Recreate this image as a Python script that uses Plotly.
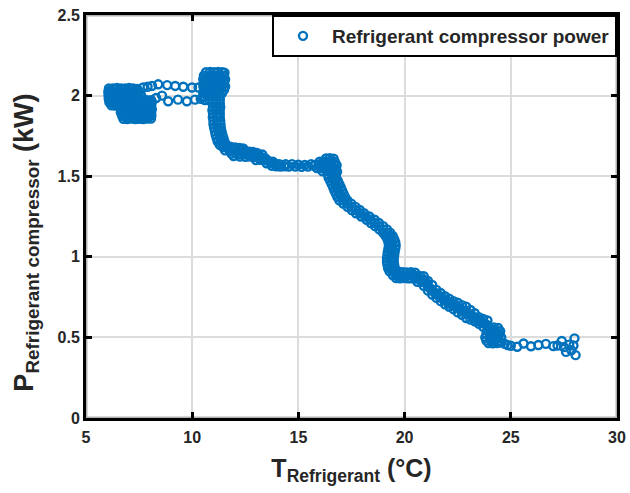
import plotly.graph_objects as go

# ---- data: (T_refrigerant [°C], P_compressor [kW]) ----
seg_cold_block = [
    (6.08, 2.045), (6.27, 2.045), (6.46, 2.048), (6.65, 2.045), (6.84, 2.045), (7.03, 2.048), (7.22, 2.045), (7.41, 2.042),
    (6.05, 2.024), (6.17, 2.024), (6.36, 2.024), (6.55, 2.026), (6.74, 2.024), (6.93, 2.024), (7.12, 2.026), (7.31, 2.024), (7.50, 2.022),
    (6.06, 2.002), (6.27, 2.002), (6.46, 2.004), (6.65, 2.002), (6.84, 2.002), (7.03, 2.004), (7.22, 2.002), (7.41, 2.002), (7.60, 2.0),
    (6.07, 1.981), (6.17, 1.981), (6.36, 1.983), (6.55, 1.981), (6.74, 1.981), (6.93, 1.983), (7.12, 1.981), (7.31, 1.981),
    (7.50, 1.978), (7.69, 1.975), (7.88, 1.972), (8.07, 1.972),
    (6.10, 1.959), (6.27, 1.959), (6.46, 1.961), (6.65, 1.959), (6.84, 1.959), (7.03, 1.961), (7.22, 1.959), (7.41, 1.959),
    (7.60, 1.957), (7.79, 1.959), (7.98, 1.957), (8.10, 1.959),
    (6.20, 1.940), (6.36, 1.938), (6.55, 1.940), (6.74, 1.938), (6.93, 1.938), (7.12, 1.940), (7.31, 1.938), (7.50, 1.938),
    (7.69, 1.940), (7.88, 1.938), (8.07, 1.938),
    (6.65, 1.916), (6.84, 1.916), (7.03, 1.918), (7.22, 1.916), (7.41, 1.916), (7.60, 1.918), (7.79, 1.916), (7.98, 1.916), (8.10, 1.916),
    (6.64, 1.895), (6.74, 1.895), (6.93, 1.897), (7.12, 1.895), (7.31, 1.895), (7.50, 1.897), (7.69, 1.895), (7.88, 1.895), (8.07, 1.895),
    (6.70, 1.875), (6.84, 1.873), (7.03, 1.875), (7.22, 1.873), (7.41, 1.873), (7.60, 1.875), (7.79, 1.873), (7.98, 1.873), (8.08, 1.876),
    (6.76, 1.856), (6.94, 1.855), (7.13, 1.857), (7.32, 1.855), (7.51, 1.856), (7.70, 1.855), (7.89, 1.857), (8.06, 1.858),
    (6.15, 2.035), (6.55, 2.035), (6.95, 2.035), (7.35, 2.032), (6.40, 1.95), (6.12, 1.97), (7.75, 1.93), (7.95, 1.905),
]
seg_transition_upper = [
    (7.69, 2.05), (7.90, 2.055), (8.11, 2.06), (8.40, 2.07), (8.82, 2.065),
    (9.20, 2.06), (9.58, 2.055), (9.99, 2.05), (10.30, 2.05),
]
seg_transition_lower = [
    (8.30, 1.985), (8.58, 2.0), (8.87, 1.965), (9.33, 1.975), (9.75, 1.965), (10.13, 1.975), (10.40, 1.98),
]
seg_warm_block = [
    (10.65, 2.145), (10.84, 2.147), (11.03, 2.145), (11.22, 2.147), (11.41, 2.145), (11.52, 2.142),
    (10.55, 2.124), (10.74, 2.124), (10.93, 2.126), (11.12, 2.124), (11.31, 2.124), (11.50, 2.122),
    (10.52, 2.102), (10.65, 2.102), (10.84, 2.104), (11.03, 2.102), (11.22, 2.102), (11.41, 2.104), (11.55, 2.1),
    (10.55, 2.081), (10.74, 2.081), (10.93, 2.083), (11.12, 2.081), (11.31, 2.081), (11.50, 2.08),
    (10.52, 2.059), (10.65, 2.059), (10.84, 2.061), (11.03, 2.059), (11.22, 2.059), (11.41, 2.061), (11.55, 2.057),
    (10.55, 2.038), (10.74, 2.038), (10.93, 2.04), (11.12, 2.038), (11.31, 2.038), (11.50, 2.036),
    (10.52, 2.016), (10.65, 2.016), (10.84, 2.018), (11.03, 2.016), (11.22, 2.016), (11.40, 2.014),
    (10.55, 1.995), (10.74, 1.995), (10.93, 1.997), (11.12, 1.995), (11.30, 1.995),
    (10.60, 1.973), (10.80, 1.973), (10.98, 1.975), (11.15, 1.973), (11.30, 1.973),
]
seg_warm_drop = [
    (10.95, 1.952), (11.12, 1.952), (11.30, 1.95), (10.98, 1.930), (11.17, 1.93), (11.32, 1.93),
    (10.95, 1.909), (11.12, 1.909), (11.30, 1.909), (10.98, 1.887), (11.17, 1.887), (11.30, 1.887),
    (10.97, 1.866), (11.14, 1.866), (11.30, 1.866), (11.00, 1.844), (11.18, 1.844), (11.32, 1.844),
    (11.00, 1.823), (11.17, 1.823), (11.33, 1.823), (11.03, 1.801), (11.20, 1.801), (11.35, 1.801),
    (11.07, 1.780), (11.25, 1.78), (11.38, 1.78), (11.10, 1.758), (11.28, 1.758), (11.42, 1.758),
    (11.15, 1.737), (11.32, 1.737), (11.47, 1.737), (11.20, 1.715), (11.38, 1.715), (11.52, 1.715),
    (11.30, 1.694), (11.48, 1.694), (11.62, 1.694),
]
seg_plateau_a = [
    (11.45, 1.68), (11.65, 1.68), (11.84, 1.682), (12.03, 1.678), (12.22, 1.676), (12.40, 1.672),
    (11.55, 1.66), (11.75, 1.66), (11.94, 1.662), (12.13, 1.658), (12.32, 1.66), (12.51, 1.656), (12.70, 1.652),
    (11.85, 1.64), (12.04, 1.642), (12.23, 1.638), (12.42, 1.64), (12.61, 1.638), (12.80, 1.636), (12.99, 1.632), (13.15, 1.63),
    (12.50, 1.62), (12.70, 1.622), (12.90, 1.618), (13.10, 1.62), (13.30, 1.615), (13.45, 1.61),
    (13.00, 1.60), (13.20, 1.602), (13.40, 1.598), (13.60, 1.595), (13.80, 1.59),
    (13.50, 1.58), (13.70, 1.582), (13.90, 1.578), (14.10, 1.575),
    (13.75, 1.565), (13.95, 1.562), (14.15, 1.56), (14.35, 1.562),
    (11.95, 1.625), (12.25, 1.622), (12.85, 1.65), (13.05, 1.645), (13.30, 1.635),
]
seg_plateau_b = [
    (14.40, 1.575), (14.55, 1.56), (14.70, 1.575), (14.85, 1.56), (15.00, 1.572), (15.15, 1.558),
    (15.30, 1.57), (15.45, 1.56), (15.60, 1.575), (15.75, 1.565),
]
seg_mid_block = [
    (16.30, 1.61), (16.48, 1.612), (16.66, 1.608),
    (16.00, 1.59), (16.18, 1.592), (16.36, 1.59), (16.54, 1.592), (16.72, 1.588),
    (15.78, 1.57), (15.96, 1.572), (16.14, 1.57), (16.32, 1.572), (16.50, 1.57), (16.68, 1.572), (16.80, 1.568),
    (15.87, 1.55), (16.05, 1.552), (16.23, 1.55), (16.41, 1.552), (16.59, 1.55), (16.77, 1.548),
    (16.14, 1.53), (16.32, 1.532), (16.50, 1.53), (16.68, 1.532), (16.82, 1.528),
    (16.40, 1.51), (16.58, 1.512), (16.76, 1.51),
]
seg_mid_drop = [
    (16.42, 1.49), (16.60, 1.49), (16.78, 1.49), (16.50, 1.47), (16.68, 1.47), (16.86, 1.47),
    (16.57, 1.45), (16.75, 1.45), (16.93, 1.45), (16.64, 1.43), (16.82, 1.43), (17.00, 1.43),
    (16.70, 1.41), (16.88, 1.41), (17.06, 1.41), (16.77, 1.39), (16.95, 1.39), (17.13, 1.39),
    (16.84, 1.37), (17.02, 1.37), (17.20, 1.37), (16.93, 1.35), (17.12, 1.35), (17.31, 1.35),
    (17.11, 1.33), (17.30, 1.33), (17.49, 1.33), (17.31, 1.31), (17.50, 1.31), (17.69, 1.31),
    (17.51, 1.29), (17.70, 1.29), (17.89, 1.29), (17.71, 1.27), (17.90, 1.27), (18.09, 1.27),
    (17.96, 1.25), (18.15, 1.25), (18.34, 1.25), (18.21, 1.23), (18.40, 1.23), (18.59, 1.23),
    (18.41, 1.21), (18.60, 1.21), (18.79, 1.21), (18.61, 1.19), (18.80, 1.19), (18.99, 1.19),
    (18.81, 1.17), (19.00, 1.17), (19.17, 1.17), (18.98, 1.15), (19.15, 1.15), (19.32, 1.15),
    (19.10, 1.13), (19.27, 1.13), (19.44, 1.13), (19.19, 1.11), (19.35, 1.11), (19.51, 1.11),
    (19.24, 1.09), (19.40, 1.09), (19.56, 1.09), (19.26, 1.07), (19.42, 1.07), (19.58, 1.07),
    (19.24, 1.05), (19.40, 1.05), (19.56, 1.05), (19.21, 1.03), (19.37, 1.03), (19.53, 1.03),
    (19.19, 1.01), (19.35, 1.01), (19.51, 1.01), (19.17, 0.99), (19.33, 0.99), (19.49, 0.99),
    (19.17, 0.97), (19.33, 0.97), (19.49, 0.97), (19.19, 0.95), (19.35, 0.95), (19.51, 0.95),
    (19.22, 0.93), (19.38, 0.93), (19.54, 0.93), (19.29, 0.91), (19.45, 0.91), (19.61, 0.91),
]
seg_warm_mid = [
    (19.55, 0.905), (19.74, 0.907), (19.93, 0.905), (20.12, 0.903), (20.31, 0.905), (20.50, 0.902),
    (19.45, 0.885), (19.64, 0.887), (19.83, 0.885), (20.02, 0.883), (20.21, 0.885), (20.40, 0.887), (20.59, 0.883), (20.75, 0.88),
    (19.60, 0.868), (19.78, 0.866), (19.97, 0.868), (20.15, 0.866), (20.30, 0.866), (20.50, 0.865), (20.70, 0.862), (20.88, 0.86),
    (20.60, 0.845), (20.80, 0.845), (21.00, 0.842),
    (20.90, 0.88), (20.90, 0.85), (20.90, 0.82), (21.10, 0.85), (21.10, 0.82), (21.10, 0.79),
    (21.30, 0.825), (21.30, 0.795), (21.30, 0.765), (21.50, 0.795), (21.50, 0.77), (21.50, 0.745),
    (21.70, 0.775), (21.70, 0.75), (21.70, 0.725), (21.90, 0.755), (21.90, 0.73), (21.90, 0.705),
    (22.10, 0.74), (22.10, 0.715), (22.10, 0.69), (22.30, 0.725), (22.30, 0.70), (22.30, 0.675),
    (22.50, 0.715), (22.50, 0.685), (22.50, 0.655), (22.70, 0.70), (22.70, 0.67), (22.70, 0.64),
    (22.90, 0.69), (22.90, 0.655), (22.90, 0.62), (23.10, 0.67), (23.10, 0.64), (23.10, 0.61),
    (23.30, 0.65), (23.30, 0.625), (23.30, 0.60), (23.50, 0.625), (23.50, 0.605), (23.50, 0.585),
    (23.70, 0.615), (23.70, 0.59), (23.70, 0.565), (23.90, 0.605), (23.90, 0.575), (23.90, 0.545),
    (21.00, 0.835), (21.20, 0.805), (21.40, 0.78), (21.60, 0.76), (21.80, 0.74), (22.00, 0.722),
    (22.20, 0.708), (22.40, 0.692), (22.60, 0.678), (22.80, 0.662), (23.00, 0.645), (23.20, 0.628),
    (23.40, 0.612), (23.60, 0.595), (23.80, 0.582),
]
seg_warm_end = [
    (24.00, 0.56), (24.20, 0.562), (24.40, 0.558),
    (23.90, 0.54), (24.10, 0.542), (24.30, 0.54), (24.50, 0.538),
    (23.85, 0.52), (24.05, 0.522), (24.25, 0.52), (24.45, 0.518),
    (23.80, 0.50), (24.00, 0.502), (24.20, 0.50), (24.40, 0.498), (24.55, 0.50),
    (23.85, 0.48), (24.05, 0.482), (24.25, 0.48), (24.45, 0.478),
    (23.95, 0.465), (24.15, 0.463), (24.35, 0.465), (24.55, 0.468),
]
seg_tail = [
    (24.72, 0.46), (24.85, 0.452), (25.00, 0.448), (25.30, 0.442), (25.60, 0.462), (25.95, 0.445), (26.30, 0.453),
    (26.65, 0.46), (27.00, 0.446), (27.20, 0.45), (27.40, 0.478), (27.50, 0.44), (27.60, 0.41), (27.75, 0.455),
    (27.85, 0.42), (28.00, 0.494), (28.05, 0.39), (27.95, 0.45),
]

x_ticks = [5, 10, 15, 20, 25, 30]
y_ticks = [0, 0.5, 1, 1.5, 2, 2.5]
x_ticklabels = ["5", "10", "15", "20", "25", "30"]
y_ticklabels = ["0", "0.5", "1", "1.5", "2", "2.5"]
series_name = "Refrigerant compressor power"
x_title = "<b>T<sub>Refrigerant</sub> (°C)</b>"
y_title = "<b>P<sub>Refrigerant compressor</sub> (kW)</b>"

segments = [seg_cold_block, seg_transition_upper, seg_transition_lower, seg_warm_block,
            seg_warm_drop, seg_plateau_a, seg_plateau_b, seg_mid_block, seg_mid_drop, seg_warm_mid,
            seg_warm_end, seg_tail]
T = [p[0] for s in segments for p in s]
P = [p[1] for s in segments for p in s]

BLUE = "#0072BD"
INK = "#262626"
FONT = "Liberation Sans, Arial, Helvetica, sans-serif"

fig = go.Figure()
fig.add_trace(go.Scatter(
    x=T, y=P, mode="markers", name="<b>" + series_name + "</b>",
    marker=dict(symbol="circle-open", size=8, color=BLUE, line=dict(width=2.4, color=BLUE)),
    showlegend=True,
))

axis_common = dict(
    showline=True, linecolor="#000000", linewidth=3, mirror="ticks",
    ticks="inside", ticklen=6, tickwidth=3, tickcolor="#000000",
    showgrid=True, gridcolor="#dcdcdc", gridwidth=2, zeroline=False,
    automargin=False, layer="above traces",
    tickfont=dict(family=FONT, size=16, color=INK),
)

fig.update_layout(
    template="simple_white",
    width=630, height=493,
    margin=dict(l=86, r=13, t=15, b=75),
    paper_bgcolor="white", plot_bgcolor="white",
    font=dict(family=FONT, color=INK),
    xaxis=dict(range=[5, 30], tickvals=x_ticks, ticktext=["<b>%s</b>" % t for t in x_ticklabels], **axis_common,
               ticklabelstandoff=3,
               title=dict(text=x_title, font=dict(family=FONT, size=25, color=INK))),
    yaxis=dict(range=[0, 2.5], tickvals=y_ticks, ticktext=["<b>%s</b>" % t for t in y_ticklabels], **axis_common),
    legend=dict(x=1, y=1, xanchor="right", yanchor="top", bgcolor="white",
                bordercolor="#000000", borderwidth=2, itemwidth=48,
                font=dict(family=FONT, size=19, color=INK)),
    shapes=[dict(type="rect", xref="paper", yref="paper", x0=0, y0=0, x1=1, y1=1,
                 line=dict(color="#000000", width=3), fillcolor="rgba(0,0,0,0)", layer="above")],
    annotations=[dict(text=y_title, textangle=-90, xref="paper", yref="paper",
                      x=-0.112, y=0.434, xanchor="center", yanchor="middle", showarrow=False,
                      font=dict(family=FONT, size=27, color=INK))],
)

fig.write_html("out.html", config={"displayModeBar": False},
               post_script="document.body.style.margin='0px';")
